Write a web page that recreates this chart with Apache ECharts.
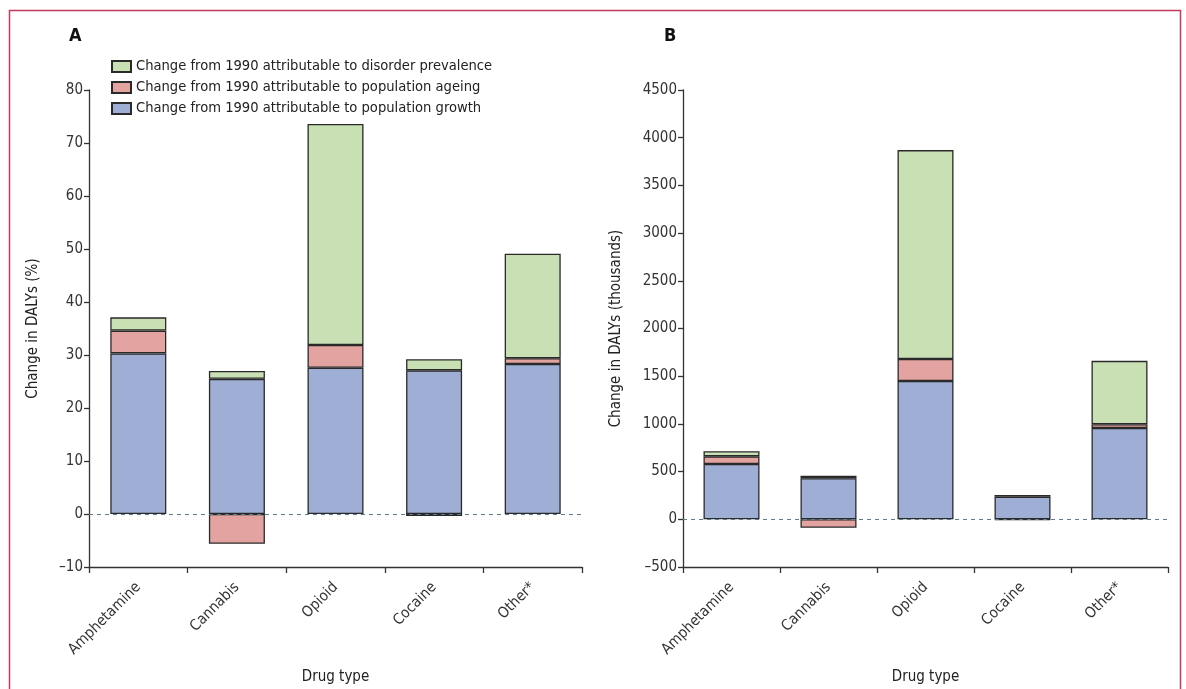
<!DOCTYPE html>
<html><head><meta charset="utf-8">
<script src="https://cdn.jsdelivr.net/npm/echarts@6/dist/echarts.min.js"></script>
<style>html,body{margin:0;padding:0;background:#fff}#c{width:1186px;height:689px}</style>
</head><body><div id="c"></div>
<script>
const categories = ['Amphetamine', 'Cannabis', 'Opioid', 'Cocaine', 'Other*'];
const seriesNames = [
  'Change from 1990 attributable to population growth',
  'Change from 1990 attributable to population ageing',
  'Change from 1990 attributable to disorder prevalence'
];
// Panel A: change in DALYs (%)
const growthPct = [30.3, 25.5, 27.6, 27.1, 28.3];
const ageingPct = [4.3, -5.6, 4.3, -0.4, 1.1];
const prevalencePct = [2.5, 1.5, 41.7, 2.1, 19.7];
// Panel B: change in DALYs (thousands)
const growthK = [580, 430, 1450, 237, 957];
const ageingK = [80, -88, 230, -5, 39];
const prevalenceK = [53, 27, 2190, 18, 665];
const yTicksA = {min: -10, max: 80, interval: 10};
const yTicksB = {min: -500, max: 4500, interval: 500};

const FONT = '"Liberation Sans Narrow","DejaVu Sans Condensed",sans-serif';
const colors = ['#9eaed5', '#e3a3a0', '#c9e0b4'];
const chart = echarts.init(document.getElementById('c'), null, {renderer: 'canvas'});

function yAxis(idx, t, name, gap) {
  return {
    type: 'value', gridIndex: idx, min: t.min, max: t.max, interval: t.interval,
    name: name, nameLocation: 'middle', nameGap: gap,
    nameTextStyle: {fontFamily: FONT, fontSize: 15, color: '#222'},
    axisLine: {show: true, lineStyle: {color: '#333', width: 1.3}},
    axisTick: {show: true, length: 5, lineStyle: {color: '#333', width: 1.3}},
    axisLabel: {fontFamily: FONT, fontSize: 15, color: '#333', margin: 6,
      formatter: v => String(v).replace('-', '\u2013')},
    splitLine: {show: false}
  };
}
function xAxis(idx) {
  return {
    type: 'category', gridIndex: idx, data: categories,
    name: 'Drug type', nameLocation: 'middle', nameGap: 103,
    nameTextStyle: {fontFamily: FONT, fontSize: 15, color: '#222'},
    axisLine: {show: true, onZero: false, lineStyle: {color: '#333', width: 1.3}},
    axisTick: {show: true, length: 6, lineStyle: {color: '#333', width: 1.3}},
    axisLabel: {fontFamily: FONT, fontSize: 15, color: '#333', rotate: 45, margin: 18}
  };
}
function bars(idx, vals, stack) {
  return vals.map((d, i) => {
    const s = {
      name: seriesNames[i], type: 'bar', stack: stack, xAxisIndex: idx, yAxisIndex: idx,
      data: d, barWidth: 56,
      itemStyle: {color: colors[i], borderColor: '#2a2a2a', borderWidth: 1.3},
      emphasis: {disabled: true}
    };
    if (i === 0) {
      s.markLine = {silent: true, symbol: 'none', label: {show: false},
        lineStyle: {type: [4, 4], color: '#5d7d8c', width: 1.2},
        data: [{yAxis: 0}]};
    }
    return s;
  });
}

chart.setOption({
  animation: false,
  textStyle: {fontFamily: FONT},
  graphic: [{type: 'rect', shape: {x: 9.5, y: 10.5, width: 1171, height: 700},
    style: {fill: 'none', stroke: '#c43a5c', lineWidth: 1.5}, silent: true}],
  title: [
    {text: 'A', left: 64, top: 22, textStyle: {fontFamily: FONT, fontSize: 18, fontWeight: 'bold', color: '#111'}},
    {text: 'B', left: 659, top: 22, textStyle: {fontFamily: FONT, fontSize: 18, fontWeight: 'bold', color: '#111'}}
  ],
  legend: {
    orient: 'vertical', left: 106, top: 54, itemWidth: 19, itemHeight: 11, itemGap: 6,
    icon: 'rect',
    data: [seriesNames[2], seriesNames[1], seriesNames[0]],
    textStyle: {fontFamily: FONT, fontSize: 14.6, color: '#222'}
  },
  grid: [
    {left: 89, right: 604, top: 90, bottom: 122, outerBoundsMode: 'none', containLabel: false},
    {left: 683, right: 18, top: 90, bottom: 122, outerBoundsMode: 'none', containLabel: false}
  ],
  xAxis: [xAxis(0), xAxis(1)],
  yAxis: [yAxis(0, yTicksA, 'Change in DALYs (%)', 48), yAxis(1, yTicksB, 'Change in DALYs (thousands)', 59)],
  series: [
    ...bars(0, [growthPct, ageingPct, prevalencePct], 'a'),
    ...bars(1, [growthK, ageingK, prevalenceK], 'b')
  ]
});
</script></body></html>
